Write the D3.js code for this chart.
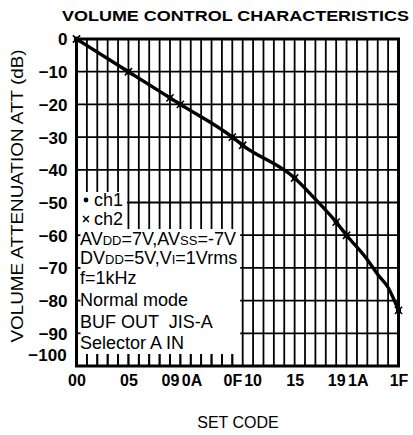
<!DOCTYPE html>
<html>
<head>
<meta charset="utf-8">
<script src="https://cdn.jsdelivr.net/npm/d3@7"></script>
<style>
  body { margin: 0; background: #fff; }
  svg { display: block; }
  text { font-family: "Liberation Sans", Arial, Helvetica, sans-serif; fill: #000; }
</style>
</head>
<body>
<svg id="drawing_region"></svg>
<script>
// set code (hex 00..1F as numbers) and attenuation in dB
const codes = [0, 5, 9, 10, 15, 16, 21, 23, 25, 26, 28, 29, 30, 31];
const att   = [0, -10, -18, -20, -30, -32.5, -42.5, -49, -56, -60, -67.5, -72, -76, -83];
// codes where measured markers sit
const markCodes = [0, 5, 9, 10, 15, 16, 21, 25, 26, 31];
const xTickValues = [0, 5, 9, 10, 15, 16, 21, 25, 26, 31];
const xTickLabels = ["00", "05", "09", "0A", "0F", "10", "15", "19", "1A", "1F"];
const yTickValues = [0, -10, -20, -30, -40, -50, -60, -70, -80, -90, -100];

const W = 413, H = 435;
const svg = d3.select('#drawing_region').attr('width', W).attr('height', H);

const x = d3.scaleLinear().domain([0, 31]).range([76.5, 398.5]);
const y = d3.scaleLinear().domain([-100, 0]).range([366, 39]);

const data = codes.map((c, i) => ({code: c, att: att[i]}));
const attAt = c => data.find(d => d.code === c).att;

// grid
const grid = svg.append('g');
grid.selectAll('line.v')
    .data(d3.range(1, 31))
    .enter().append('line')
    .attr('x1', d => x(d)).attr('x2', d => x(d))
    .attr('y1', y(0)).attr('y2', y(-100))
    .attr('stroke', '#000').attr('stroke-width', 1.8);
grid.selectAll('line.h')
    .data(d3.range(-90, 0, 10))
    .enter().append('line')
    .attr('x1', x(0)).attr('x2', x(31))
    .attr('y1', d => y(d)).attr('y2', d => y(d))
    .attr('stroke', '#000').attr('stroke-width', 1.8);

// legend / conditions text block (white background hides the grid)
const legendG = svg.append('g');
const rowsA = [{sym: 'dot', t: 'ch1'}, {sym: 'x', t: 'ch2'}];
const rowsB = [
    [['AV', 18], ['DD', 13], ['=7V,AV', 18], ['SS', 13], ['=-7V', 18]],
    [['DV', 18], ['DD', 13], ['=5V,V', 18], ['I', 13], ['=1Vrms', 18]],
    [['f=1kHz', 18]],
    [['Normal mode', 18]],
    [['BUF OUT  JIS-A', 18]],
    [['Selector A IN', 18]]
];
const baseA = [206, 225];
const baseB = [245, 264, 284, 306, 328, 349];

const bgA = legendG.append('rect').attr('fill', '#fff');
const bgB = legendG.append('rect').attr('fill', '#fff');

const textA = legendG.selectAll('text.a')
    .data(rowsA).enter().append('text')
    .attr('x', 94).attr('y', (d, i) => baseA[i])
    .style('font-size', '18px')
    .text(d => d.t);

const textB = legendG.selectAll('text.b')
    .data(rowsB).enter().append('text')
    .attr('x', 80).attr('y', (d, i) => baseB[i])
    .attr('xml:space', 'preserve')
    .style('white-space', 'pre');
textB.each(function(parts) {
    const t = d3.select(this);
    parts.forEach(p => {
        t.append('tspan').style('font-size', p[1] + 'px').text(p[0]);
    });
});

let wA = 0, wB = 0;
textA.each(function() { const b = this.getBBox(); wA = Math.max(wA, b.x + b.width); });
textB.each(function() { const b = this.getBBox(); wB = Math.max(wB, b.x + b.width); });
bgA.attr('x', x(0) + 1).attr('y', 192).attr('width', wA + 3 - x(0)).attr('height', 38);
bgB.attr('x', x(0) + 1).attr('y', 229).attr('width', wB + 2 - x(0)).attr('height', y(-100) - 12 - 229);

legendG.append('circle').attr('cx', 86).attr('cy', 200).attr('r', 2.4).attr('fill', '#000');
legendG.append('path').attr('d', d3.symbol(d3.symbolX, 24)())
    .attr('transform', 'translate(86,219)')
    .attr('fill', 'none').attr('stroke', '#000').attr('stroke-width', 1.5);

// short ticks left visible under the white block
const coveredMax = Math.floor(x.invert(wB + 2));
svg.append('g').selectAll('line')
    .data(d3.range(1, coveredMax + 1))
    .enter().append('line')
    .attr('x1', d => x(d)).attr('x2', d => x(d))
    .attr('y1', y(-100)).attr('y2', y(-100) - 12)
    .attr('stroke', '#000').attr('stroke-width', 1.8);
svg.append('g').selectAll('line')
    .data([-60, -70, -80, -90])
    .enter().append('line')
    .attr('x1', x(0)).attr('x2', x(0) + 4)
    .attr('y1', d => y(d)).attr('y2', d => y(d))
    .attr('stroke', '#000').attr('stroke-width', 1.8);

// frame
svg.append('rect')
    .attr('x', x(0)).attr('y', y(0))
    .attr('width', x(31) - x(0)).attr('height', y(-100) - y(0))
    .attr('fill', 'none').attr('stroke', '#000').attr('stroke-width', 3);

// curve
const line = d3.line().x(d => x(d.code)).y(d => y(d.att)).curve(d3.curveMonotoneX);
svg.append('path').datum(data)
    .attr('d', line)
    .attr('fill', 'none').attr('stroke', '#000').attr('stroke-width', 3.4);

// markers (ch1 dots, ch2 crosses)
svg.append('g').selectAll('circle')
    .data(markCodes).enter().append('circle')
    .attr('cx', d => x(d)).attr('cy', d => y(attAt(d)))
    .attr('r', 2.6).attr('fill', '#000');
svg.append('g').selectAll('path')
    .data(markCodes).enter().append('path')
    .attr('d', d3.symbol(d3.symbolX, 36)())
    .attr('transform', d => `translate(${x(d)},${y(attAt(d))})`)
    .attr('fill', 'none').attr('stroke', '#000').attr('stroke-width', 1.6);

// y axis labels
const yAxis = d3.axisLeft(y).tickValues(yTickValues).tickSize(0).tickPadding(9)
    .tickFormat(d => d3.format('d')(d));
const yg = svg.append('g').attr('transform', `translate(${x(0)},0)`).call(yAxis);
yg.select('.domain').remove();
yg.selectAll('text').style('font-size', '17px').style('font-weight', 'bold')
    .attr('dy', (d) => d === -100 ? '-0.3em' : '0.35em')
    .attr('dx', (d) => d === -100 ? '-0.05em' : '0');

// x axis labels
const xg = svg.append('g').attr('transform', `translate(0,${y(-100)})`)
    .call(d3.axisBottom(x).tickValues(xTickValues).tickSize(0).tickPadding(9)
        .tickFormat((d, i) => xTickLabels[i]));
xg.select('.domain').remove();
xg.selectAll('text').style('font-size', '16px').style('font-weight', 'bold')
    .each(function(d, i) {
        // second label of an adjacent pair sits to the right of its line
        if (i > 0 && xTickValues[i - 1] === d - 1) {
            d3.select(this).attr('text-anchor', 'start').attr('x', 1);
        }
    });

// titles
svg.append('text')
    .attr('x', 62).attr('y', 21)
    .attr('textLength', 347).attr('lengthAdjust', 'spacingAndGlyphs')
    .style('font-size', '14.5px').style('font-weight', 'bold')
    .text('VOLUME CONTROL CHARACTERISTICS');

svg.append('text')
    .attr('transform', 'translate(23,196) rotate(-90)')
    .attr('text-anchor', 'middle')
    .attr('textLength', 293).attr('lengthAdjust', 'spacingAndGlyphs')
    .style('font-size', '16px')
    .text('VOLUME ATTENUATION  ATT (dB)');

svg.append('text')
    .attr('x', 238).attr('y', 428)
    .attr('text-anchor', 'middle')
    .style('font-size', '16px')
    .text('SET CODE');
</script>
</body>
</html>
